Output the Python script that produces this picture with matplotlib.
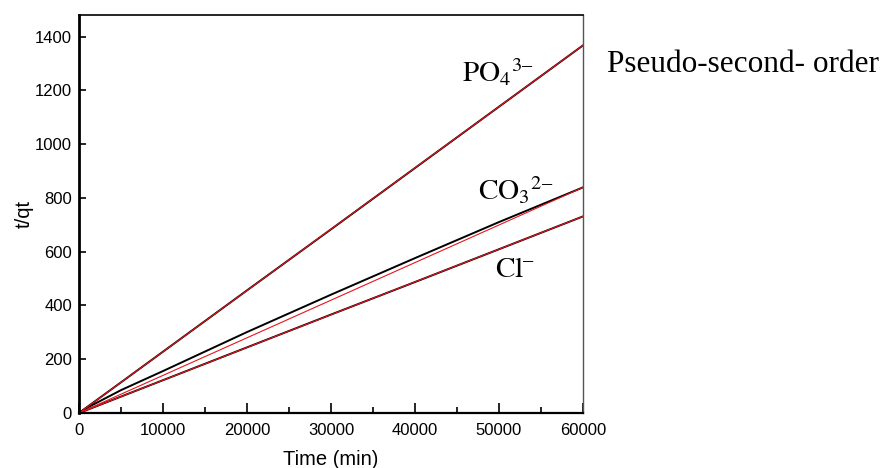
import numpy as np
import matplotlib
matplotlib.use("Agg")
import matplotlib.pyplot as plt

plt.rcParams["font.family"] = ["Liberation Sans", "DejaVu Sans"]
plt.rcParams["mathtext.fontset"] = "stix"

# -----------------------------
# Data
# -----------------------------
time_min = [0, 1000, 5000, 10000, 20000, 30000, 40000, 50000, 60000]
po4_data = [0, 23, 114, 228, 456, 683, 911, 1139, 1367]
co3_data = [0, 20, 85, 156, 301, 440, 576, 710, 839]
cl_data = [0, 12, 61, 122, 244, 366, 487, 609, 731]

fit_time = [0, 60000]
po4_fit = [0, 1367]
co3_fit = [0, 839]
cl_fit = [0, 731]

x_ticks = [0, 10000, 20000, 30000, 40000, 50000, 60000]
y_ticks = [0, 200, 400, 600, 800, 1000, 1200, 1400]

# -----------------------------
# Plot
# -----------------------------
fig = plt.figure(figsize=(8.86, 4.68), dpi=100)
ax = fig.add_axes([79 / 886, 55 / 468, 504 / 886, 398 / 468])

for ys in (po4_data, co3_data, cl_data):
    ax.plot(time_min, ys, color="black", lw=1.4)
for ys in (po4_fit, co3_fit, cl_fit):
    ax.plot(fit_time, ys, color="#e5161d", lw=0.8)

ax.set_xlim(0, 60000)
ax.set_ylim(0, 1480)
ax.set_xticks(x_ticks)
ax.set_xticks(np.arange(5000, 60000, 10000), minor=True)
ax.set_yticks(y_ticks)

ax.tick_params(which="both", direction="in", labelsize=12)
ax.tick_params(axis="x", which="major", length=7, width=1.2, pad=7)
ax.tick_params(axis="x", which="minor", length=4, width=1.2)
ax.tick_params(axis="y", which="major", length=5, width=1.2, pad=5)

ax.spines["left"].set_linewidth(2.0)
ax.spines["bottom"].set_linewidth(1.6)
ax.spines["top"].set_linewidth(1.2)
ax.spines["right"].set_linewidth(1.0)
ax.spines["right"].set_color("#555555")

ax.set_xlabel("Time (min)", fontsize=14.5, labelpad=9)
ax.set_ylabel("t/qt", fontsize=14.5, labelpad=1)

# ion labels
serif = dict(fontsize=21, va="baseline", ha="left")
ax.text(45600, 1229, r"$\mathrm{PO_4}^{3\endash}$", **serif)
ax.text(47460, 793, r"$\mathrm{CO_3}^{2\endash}$", **serif)
ax.text(49520, 504, r"$\mathrm{Cl}^{\endash}$", **serif)

fig.text(607 / 886, 1 - 72 / 468, "Pseudo-second- order",
         family="Liberation Serif", fontsize=22.5, va="baseline", ha="left")

fig.savefig("out.png", dpi=100)
